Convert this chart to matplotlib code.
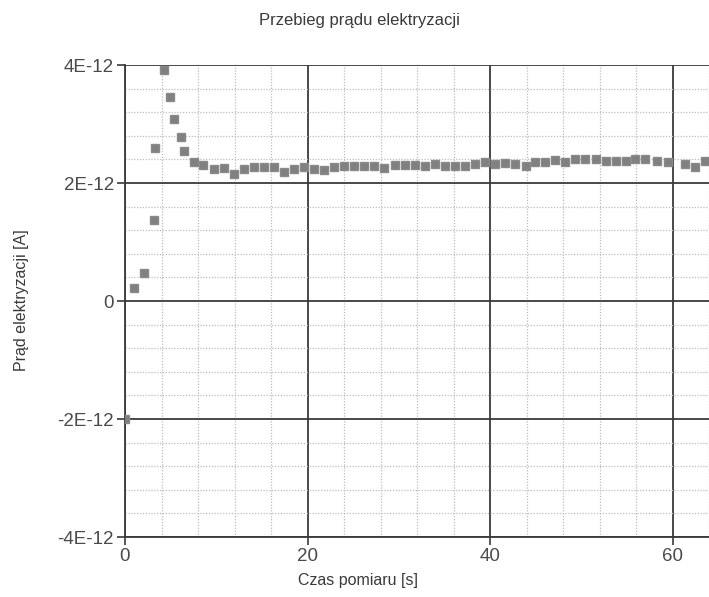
import matplotlib
matplotlib.use("Agg")
import matplotlib.pyplot as plt
from matplotlib.ticker import MultipleLocator
import numpy as np

plt.rcParams["font.family"] = ["Liberation Sans", "DejaVu Sans"]

time_s = [0, 1.02, 2.1, 3.14, 3.25, 4.3, 4.93, 5.4, 6.1, 6.43,
          7.6, 8.6, 9.75, 10.8, 11.95, 13.0, 14.1, 15.2, 16.3, 17.4,
          18.5, 19.6, 20.7, 21.8, 22.9, 24.0, 25.1, 26.2, 27.3, 28.4,
          29.6, 30.7, 31.8, 32.9, 34.0, 35.1, 36.2, 37.3, 38.4, 39.5,
          40.5, 41.6, 42.7, 43.9, 44.9, 46.0, 47.1, 48.2, 49.3, 50.4,
          51.6, 52.7, 53.8, 54.9, 55.9, 57.0, 58.3, 59.5, 61.4, 62.5,
          63.6]
current_pA = [-2.0, 0.225, 0.47, 1.37, 2.59, 3.92, 3.45, 3.08, 2.78, 2.55,
              2.35, 2.30, 2.24, 2.25, 2.16, 2.23, 2.27, 2.27, 2.27, 2.19,
              2.24, 2.27, 2.23, 2.22, 2.27, 2.28, 2.29, 2.28, 2.28, 2.25,
              2.30, 2.30, 2.30, 2.29, 2.32, 2.28, 2.29, 2.28, 2.32, 2.36,
              2.33, 2.34, 2.33, 2.28, 2.35, 2.35, 2.39, 2.35, 2.40, 2.41,
              2.41, 2.37, 2.38, 2.38, 2.40, 2.40, 2.38, 2.36, 2.33, 2.27,
              2.38]

x_ticks = [0, 20, 40, 60]
y_ticks = [-4e-12, -2e-12, 0, 2e-12, 4e-12]
y_tick_labels = ["-4E-12", "-2E-12", "0", "2E-12", "4E-12"]

t = np.array(time_s)
i_a = np.array(current_pA) * 1e-12

fig = plt.figure(figsize=(7.09, 5.97), dpi=100)
ax = fig.add_axes([125 / 709, 1 - 537 / 597, 584 / 709, 472 / 597])

ax.plot(t, i_a, linestyle="none", marker="s", markersize=5.5,
        color="#808080", markeredgecolor="#8a8a8a", zorder=3)

ax.set_xlim(0, 64)
ax.set_ylim(-4e-12, 4e-12)
ax.set_xticks(x_ticks)
ax.set_yticks(y_ticks)
ax.set_yticklabels(y_tick_labels)
ax.xaxis.set_minor_locator(MultipleLocator(4))
ax.yaxis.set_minor_locator(MultipleLocator(0.4e-12))

ax.grid(which="major", color="#3a3a3a", linewidth=1.3, linestyle="-")
ax.grid(which="minor", color="#bdbdbd", linewidth=0.9, linestyle=(0, (1, 1.3)))
ax.set_axisbelow(True)

for side in ("top", "right"):
    ax.spines[side].set_visible(False)
for side in ("left", "bottom"):
    ax.spines[side].set_color("#3a3a3a")
    ax.spines[side].set_linewidth(1.3)

ax.tick_params(which="major", length=6, width=1.2, color="#3a3a3a",
               labelsize=13.5, labelcolor="#4a4a4a", pad=2)
ax.tick_params(which="minor", length=0)

fig.text(0.507, 0.966, "Przebieg prądu elektryzacji", ha="center",
         va="center", fontsize=12, color="#3a3a3a")
fig.text(0.505, 0.028, "Czas pomiaru [s]", ha="center", va="center",
         fontsize=11.5, color="#3a3a3a")
fig.text(0.031, 0.497, "Prąd elektryzacji [A]", ha="center", va="center",
         rotation=90, fontsize=11.5, color="#3a3a3a")

fig.savefig("out.png", dpi=100)
